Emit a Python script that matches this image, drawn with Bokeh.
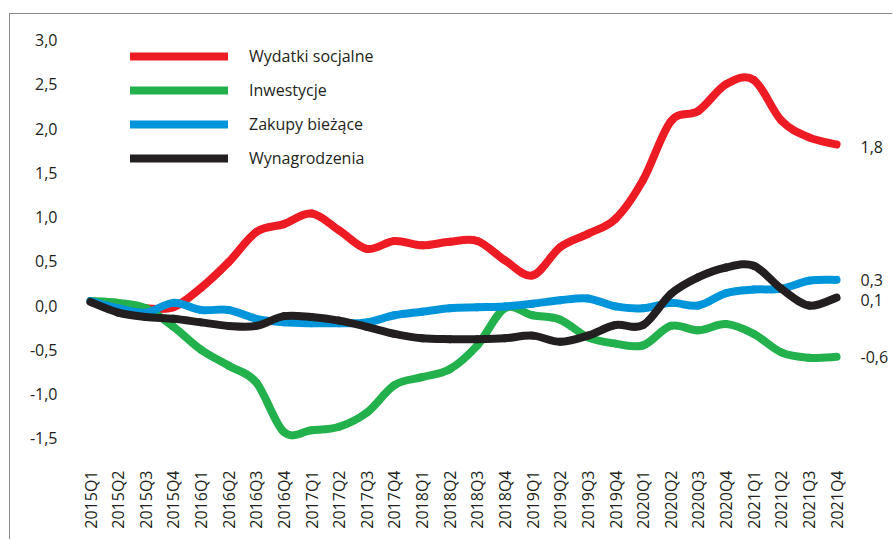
import math
from bokeh.plotting import figure
from bokeh.models import Range1d, FixedTicker, Legend, LegendItem, ColumnDataSource
from bokeh.core.properties import value
from bokeh.embed import file_html
from bokeh.resources import INLINE

quarters = [f"{y}Q{q}" for y in range(2015, 2022) for q in range(1, 5)]

wydatki = [0.05, 0.0, -0.03, -0.02, 0.2, 0.49, 0.83, 0.92, 1.04, 0.85, 0.64, 0.73,
           0.68, 0.72, 0.73, 0.51, 0.34, 0.66, 0.81, 0.98, 1.42, 2.08, 2.2, 2.5,
           2.55, 2.09, 1.9, 1.82]
inwestycje = [0.05, 0.03, -0.03, -0.24, -0.5, -0.68, -0.87, -1.43, -1.41, -1.37, -1.21, -0.9,
              -0.81, -0.72, -0.45, -0.03, -0.11, -0.16, -0.36, -0.43, -0.45, -0.23, -0.28, -0.21,
              -0.32, -0.53, -0.59, -0.58]
zakupy = [0.05, -0.03, -0.08, 0.03, -0.05, -0.05, -0.15, -0.19, -0.2, -0.2, -0.19, -0.11,
          -0.07, -0.03, -0.02, -0.01, 0.02, 0.06, 0.08, -0.01, -0.03, 0.03, 0.0, 0.14,
          0.18, 0.19, 0.28, 0.29]
wynagrodzenia = [0.04, -0.08, -0.13, -0.15, -0.19, -0.23, -0.23, -0.12, -0.13, -0.17, -0.24, -0.32,
                 -0.37, -0.38, -0.38, -0.37, -0.34, -0.41, -0.34, -0.22, -0.22, 0.13, 0.32, 0.43,
                 0.45, 0.19, 0.0, 0.09]

series_names = ["Wydatki socjalne", "Inwestycje", "Zakupy bieżące", "Wynagrodzenia"]
series_values = [wydatki, inwestycje, zakupy, wynagrodzenia]
series_colors = ["#ed1c24", "#22b14c", "#0095da", "#231f20"]
end_labels = ["1,8", "-0,6", "0,3", "0,1"]

y_ticks = [-1.5, -1.0, -0.5, 0.0, 0.5, 1.0, 1.5, 2.0, 2.5, 3.0]
y_tick_labels = ["-1,5", "-1,0", "-0,5", "0,0", "0,5", "1,0", "1,5", "2,0", "2,5", "3,0"]

FONT = "Open Sans"
TXT = "#231f20"


def smooth_segments(ys, t=1.0 / 6.0):
    xs = list(range(len(ys)))
    n = len(ys)
    d = dict(x0=[], y0=[], x1=[], y1=[], cx0=[], cy0=[], cx1=[], cy1=[])
    for i in range(n - 1):
        im1 = max(i - 1, 0)
        ip2 = min(i + 2, n - 1)
        d["x0"].append(xs[i]); d["y0"].append(ys[i])
        d["x1"].append(xs[i + 1]); d["y1"].append(ys[i + 1])
        d["cx0"].append(xs[i] + (xs[i + 1] - xs[im1]) * t)
        d["cy0"].append(ys[i] + (ys[i + 1] - ys[im1]) * t)
        d["cx1"].append(xs[i + 1] - (xs[ip2] - xs[i]) * t)
        d["cy1"].append(ys[i + 1] - (ys[ip2] - ys[i]) * t)
    return d


W, H = 883, 526
p = figure(width=W, height=H, output_backend="svg", toolbar_location=None,
           x_range=Range1d(-0.905, 29.06), y_range=Range1d(-1.638, 3.164),
           min_border_left=55, min_border_right=0, min_border_top=11, min_border_bottom=90)
p.styles = {"margin-top": "13px", "margin-left": "9px",
            "border-top": "1px solid #8a8a8a", "border-left": "1px solid #8a8a8a"}
p.outline_line_color = None
p.xgrid.grid_line_color = None
p.ygrid.grid_line_color = None
p.background_fill_color = "white"
p.border_fill_color = "white"

renderers = []
for name, vals, col in zip(series_names, series_values, series_colors):
    src = ColumnDataSource(smooth_segments(vals))
    r = p.bezier(x0="x0", y0="y0", x1="x1", y1="y1", cx0="cx0", cy0="cy0", cx1="cx1", cy1="cy1",
                 source=src, line_color=col, line_width=8, line_cap="round")
    renderers.append(r)

# end labels
last_x = [len(quarters) - 1] * 4
last_y = [v[-1] for v in series_values]
last_y_pos = [last_y[0] - 0.03, last_y[1], last_y[2], last_y[3] - 0.03]
p.text(x=last_x, y=last_y_pos, text=end_labels, x_offset=24, text_align="left",
       text_baseline="middle", text_font=value(FONT), text_font_size="16px", text_color=TXT)

legend = Legend(items=[LegendItem(label=n, renderers=[r]) for n, r in zip(series_names, renderers)],
                location=(65, 281), orientation="vertical", glyph_width=98, glyph_height=20,
                label_height=20, spacing=12, label_standoff=21, padding=0, margin=0,
                border_line_color=None, background_fill_alpha=0,
                label_text_font=FONT, label_text_font_size="16px", label_text_color=TXT)
p.add_layout(legend)

# axes
p.xaxis.ticker = FixedTicker(ticks=list(range(len(quarters))))
p.xaxis.major_label_overrides = {i: q for i, q in enumerate(quarters)}
p.xaxis.major_label_orientation = math.pi / 2
p.yaxis.ticker = FixedTicker(ticks=y_ticks)
p.yaxis.major_label_overrides = {t: l for t, l in zip(y_ticks, y_tick_labels)}
for ax in (p.xaxis, p.yaxis):
    ax.axis_line_color = None
    ax.major_tick_line_color = None
    ax.minor_tick_line_color = None
    ax.major_tick_out = 0
    ax.major_tick_in = 0
    ax.major_label_text_font = FONT
    ax.major_label_text_font_size = "16px"
    ax.major_label_text_color = TXT
p.xaxis.major_label_standoff = 20
p.yaxis.major_label_standoff = 8

open("out.html", "w").write(file_html(p, INLINE))
